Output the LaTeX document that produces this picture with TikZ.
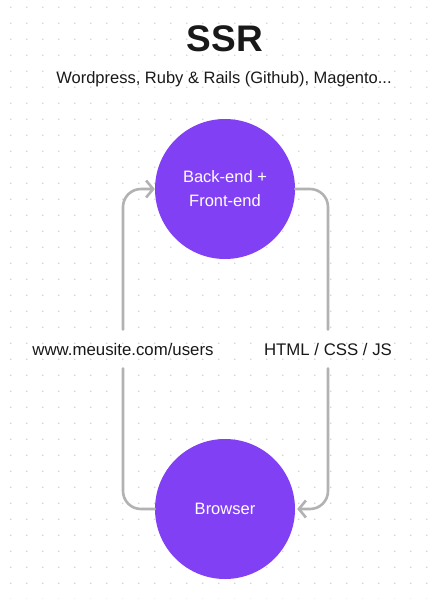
\documentclass[tikz,border=0pt]{standalone}
\usepackage{fontspec}
\setmainfont{Liberation Sans}
\usetikzlibrary{arrows.meta}
\definecolor{purp}{RGB}{130,64,245}
\definecolor{linegray}{RGB}{178,178,178}
\definecolor{dotgray}{RGB}{214,214,214}
\definecolor{txt}{RGB}{25,25,25}
\tikzset{
  bubble/.style={circle, fill=purp, minimum size=140pt, inner sep=0pt, text=white, font=\fontsize{16.5}{24}\selectfont, align=center},
  flow/.style={draw=linegray, line width=2.6pt, rounded corners=18pt, line cap=round},
  tip/.style={-{Straight Barb[length=7pt,width=17pt,line width=2.6pt]}},
  lbl/.style={text=txt, font=\fontsize{16.8}{20}\selectfont, inner xsep=2pt, inner ysep=13pt}
}
\begin{document}
\begin{tikzpicture}[x=1pt,y=-1pt]
\useasboundingbox[fill=white] (0,0) rectangle (441,599);
\foreach \i in {0,...,27}{
  \foreach \j in {0,...,37}{
    \fill[dotgray] (10.7+16*\i, 7.3+16*\j) circle (0.9pt);
  }
}
\node[font=\bfseries\fontsize{37}{40}\selectfont, text=txt] (title) at (225,39) {SSR};
\node[font=\fontsize{16.5}{20}\selectfont, text=txt] (sub) at (224,79) {Wordpress, Ruby \& Rails (Github), Magento...};
\node[bubble] (top) at (225,189) {Back-end +\\Front-end};
\node[bubble] (bot) at (225,509) {Browser};
\node[lbl] (l1) at (123,349) {www.meusite.com/users};
\node[lbl] (l2) at (328,349) {HTML / CSS / JS};
\draw[flow] (bot.west) -| (l1.south);
\draw[flow, tip] (l1.north) |- (top.west);
\draw[flow] (top.east) -| (l2.north);
\draw[flow, tip] (l2.south) |- ([xshift=2pt]bot.east);
\end{tikzpicture}
\end{document}
